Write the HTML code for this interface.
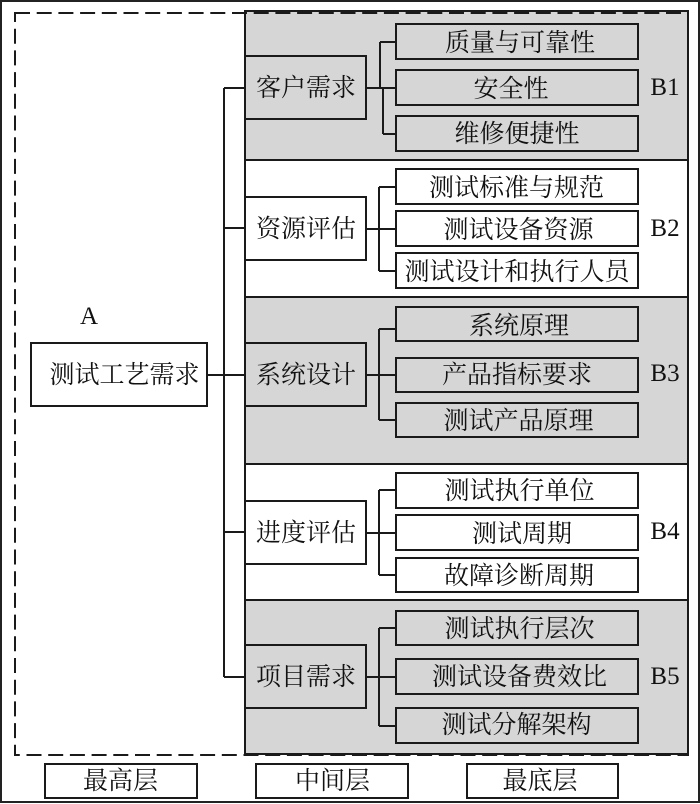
<!DOCTYPE html>
<html>
<head>
<meta charset="utf-8">
<style>
html,body{margin:0;padding:0;background:#fff;width:700px;height:804px;overflow:hidden}
svg{display:block}
text{font-family:"Liberation Serif","Noto Serif CJK SC",serif;font-size:25px;fill:#111;text-anchor:middle}
.g{fill:#d6d6d6;stroke:#1a1a1a;stroke-width:2}
.w{fill:#fff;stroke:#1a1a1a;stroke-width:2}
.l{fill:none;stroke:#1a1a1a;stroke-width:2}
</style>
</head>
<body>
<svg width="700" height="804" viewBox="0 0 700 804" xmlns="http://www.w3.org/2000/svg">
<rect x="1" y="1" width="698" height="801" fill="#fff" stroke="#222" stroke-width="2"/>

<rect class="g" x="245" y="11" width="443" height="149"/>
<rect class="w" x="245" y="160" width="443" height="137"/>
<rect class="g" x="245" y="297" width="443" height="167"/>
<rect class="w" x="245" y="464" width="443" height="136"/>
<rect class="g" x="245" y="600" width="443" height="154"/>

<rect x="15" y="13" width="673" height="742" fill="none" stroke="#1a1a1a" stroke-width="2" stroke-dasharray="15 6.7"/>

<path class="l" d="M207 375H245M224 88V677M224 88H245M224 228H245M224 532H245M224 677H245"/>

<path class="l" d="M366 88H396M380 42V88M383 88V134M380 42H396M383 134H396"/>
<path class="l" d="M366 229H396M379 187V271M379 187H396M379 271H396"/>
<path class="l" d="M366 375H396M379 329V420M379 329H396M379 420H396"/>
<path class="l" d="M366 533H396M379 490V575M379 490H396M379 575H396"/>
<path class="l" d="M366 677H396M379 628V726M379 628H396M379 726H396"/>

<rect class="w" x="31" y="343" width="176" height="63"/>
<text x="124.500" y="383">测试工艺需求</text>
<text x="89" y="324" style="font-size:25px">A</text>

<rect class="g" x="245" y="56" width="121" height="63"/>
<rect class="w" x="245" y="197" width="121" height="63"/>
<rect class="g" x="245" y="343" width="121" height="63"/>
<rect class="w" x="245" y="501" width="121" height="63"/>
<rect class="g" x="245" y="645" width="121" height="63"/>
<text x="306" y="96">客户需求</text>
<text x="306" y="237">资源评估</text>
<text x="306" y="383">系统设计</text>
<text x="306" y="541">进度评估</text>
<text x="306" y="685">项目需求</text>

<rect class="g" x="396" y="24" width="242" height="35"/>
<rect class="g" x="396" y="70" width="242" height="35"/>
<rect class="g" x="396" y="116" width="242" height="35"/>
<text x="520" y="51">质量与可靠性</text>
<text x="511" y="97">安全性</text>
<text x="517" y="142">维修便捷性</text>

<rect class="w" x="396" y="169" width="242" height="35"/>
<rect class="w" x="396" y="211" width="242" height="35"/>
<rect class="w" x="396" y="253" width="242" height="35"/>
<text x="516.500" y="196">测试标准与规范</text>
<text x="518.500" y="238">测试设备资源</text>
<text x="517" y="280">测试设计和执行人员</text>

<rect class="g" x="396" y="307" width="242" height="34"/>
<rect class="g" x="396" y="358" width="242" height="34"/>
<rect class="g" x="396" y="403" width="242" height="34"/>
<text x="519" y="334">系统原理</text>
<text x="517" y="383">产品指标要求</text>
<text x="518.500" y="429">测试产品原理</text>

<rect class="w" x="396" y="473" width="242" height="35"/>
<rect class="w" x="396" y="515" width="242" height="35"/>
<rect class="w" x="396" y="558" width="242" height="34"/>
<text x="519.500" y="499">测试执行单位</text>
<text x="522" y="542">测试周期</text>
<text x="519" y="584">故障诊断周期</text>

<rect class="g" x="396" y="611" width="242" height="34"/>
<rect class="g" x="396" y="659" width="242" height="35"/>
<rect class="g" x="396" y="708" width="242" height="35"/>
<text x="519.500" y="637">测试执行层次</text>
<text x="519.500" y="685">测试设备费效比</text>
<text x="516.500" y="733">测试分解架构</text>

<text x="665" y="95" style="font-size:25px">B1</text>
<text x="665" y="236" style="font-size:25px">B2</text>
<text x="665" y="381" style="font-size:25px">B3</text>
<text x="665" y="539" style="font-size:25px">B4</text>
<text x="665" y="684" style="font-size:25px">B5</text>

<rect class="w" x="45" y="764" width="152" height="34"/>
<rect class="w" x="256" y="764" width="152" height="34"/>
<rect class="w" x="467" y="764" width="151" height="34"/>
<text x="120.500" y="789">最高层</text>
<text x="332.500" y="789">中间层</text>
<text x="540" y="789">最底层</text>
</svg>
</body>
</html>
